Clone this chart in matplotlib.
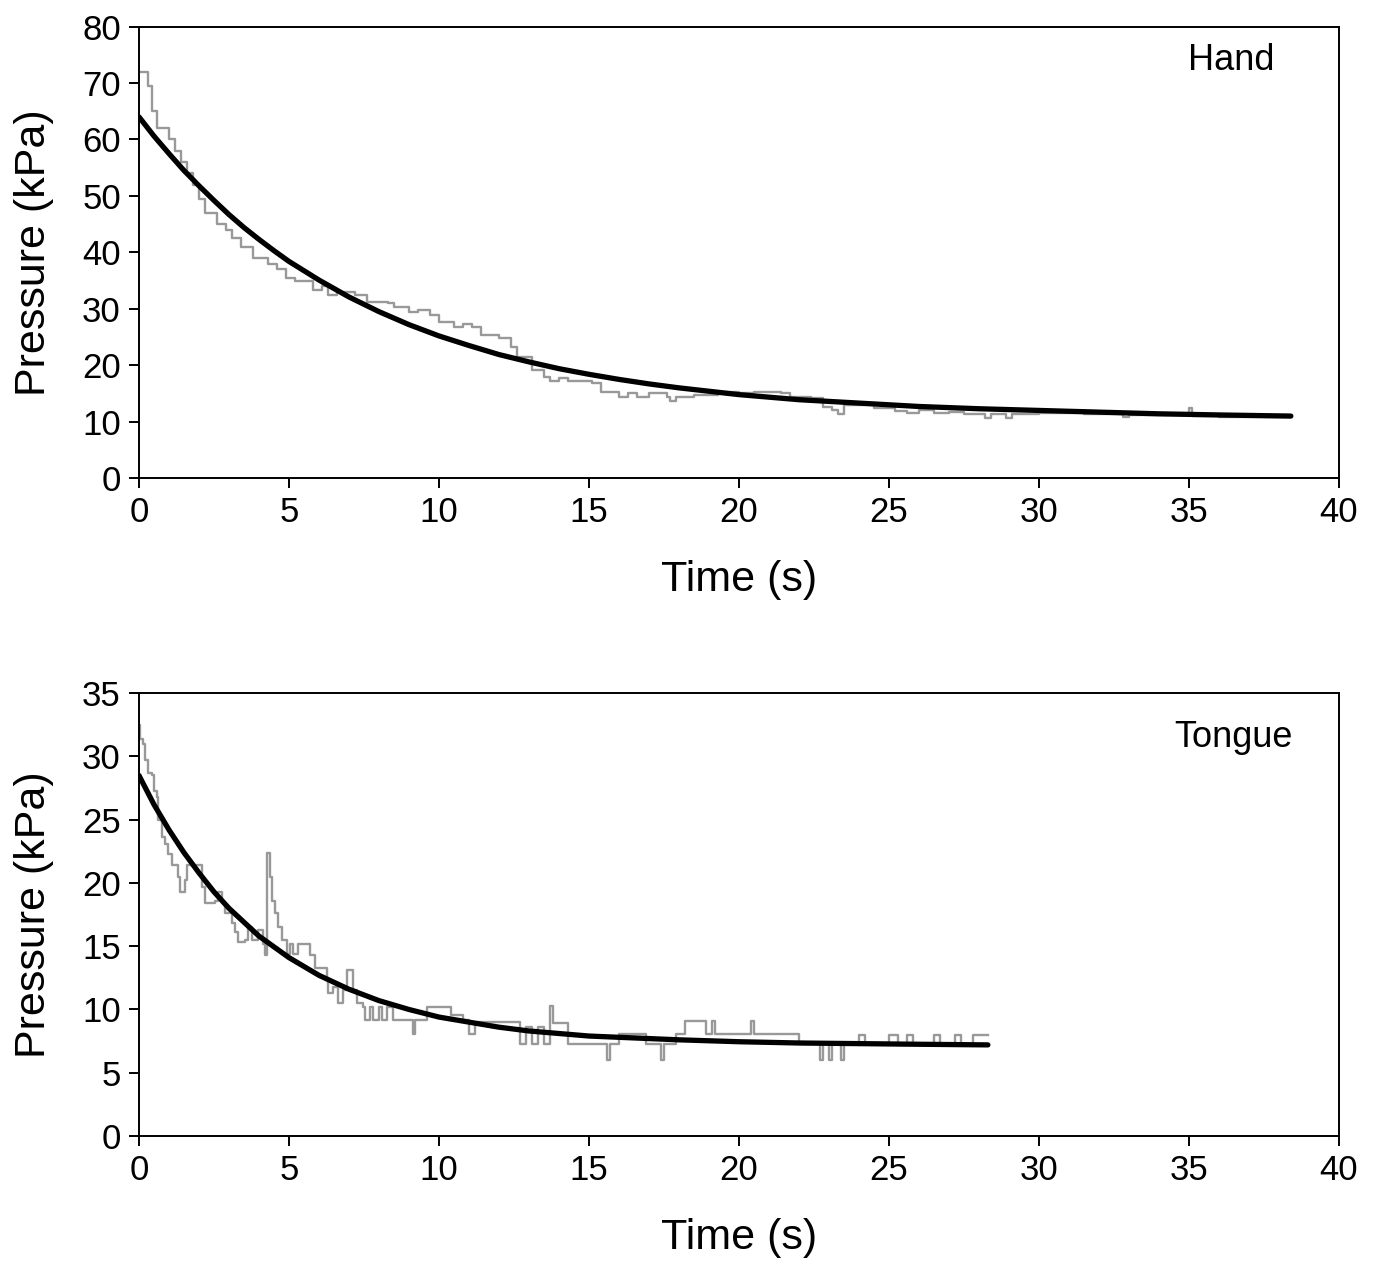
import matplotlib
matplotlib.use("Agg")
import matplotlib.pyplot as plt

plt.rcParams['font.family'] = ['Liberation Sans', 'DejaVu Sans']

# Hand: measured pressure (step trace) and fitted decay
hand_t = [0, 0.3, 0.45, 0.6, 1.0, 1.2, 1.4, 1.6, 1.8, 2.0, 2.2, 2.6, 2.9, 3.1, 3.4,
          3.8, 4.3, 4.6, 4.9, 5.2, 5.8, 6.1, 6.3, 6.6, 7.2, 7.6, 8.3, 8.5, 9.0, 9.3,
          9.7, 10.0, 10.5, 10.8, 11.1, 11.4, 12.0, 12.4, 12.6, 13.1, 13.5, 13.7, 14.0,
          14.3, 15.1, 15.4, 16.0, 16.3, 16.6, 17.0, 17.6, 17.7, 17.9, 18.5, 19.3, 20.0,
          20.5, 21.4, 21.7, 22.4, 22.8, 23.1, 23.3, 23.5, 24.5, 25.2, 25.6, 26.0, 26.5,
          27.0, 27.5, 28.2, 28.4, 28.9, 29.1, 30.0, 31.5, 32.8, 33.0, 35.0, 35.1, 36.0,
          38.4]
hand_p = [72, 69.5, 65, 62, 60, 58, 56, 54, 52, 49.5, 47, 45, 44, 42.5, 41,
          39, 38, 37, 35.5, 35, 33.3, 34, 32.5, 33, 32.5, 31.2, 31, 30.3, 29.4, 29.8,
          28.9, 27.7, 26.8, 27.3, 26.8, 25.4, 24.8, 23.2, 21.5, 19.1, 18, 17.2, 17.8,
          17.2, 16.8, 15.3, 14.4, 15.1, 14.4, 15.0, 14.4, 13.7, 14.4, 14.7, 15.3, 15.0,
          15.3, 15.1, 14.4, 14.2, 12.6, 12.0, 11.3, 12.9, 12.4, 11.9, 11.5, 12.0, 11.6,
          11.8, 11.4, 10.6, 11.4, 10.6, 11.4, 11.6, 11.3, 10.8, 11.2, 12.5, 11.0, 10.8,
          10.8]
hand_fit_t = [0, 0.5, 1, 1.5, 2, 2.5, 3, 3.5, 4, 4.5, 5, 6, 7, 8, 9, 10, 11, 12, 13,
              14, 15, 16, 17, 18, 19, 20, 22, 24, 26, 28, 30, 32, 34, 36, 38.4]
hand_fit_p = [64.0, 60.6, 57.5, 54.5, 51.8, 49.2, 46.7, 44.4, 42.3, 40.3, 38.4, 35.1,
              32.1, 29.5, 27.2, 25.2, 23.5, 21.9, 20.6, 19.4, 18.4, 17.5, 16.7, 16.0,
              15.4, 14.8, 13.9, 13.3, 12.7, 12.3, 12.0, 11.7, 11.4, 11.2, 11.0]

# Tongue: measured pressure (step trace) and fitted decay
tongue_t = [0, 0.05, 0.13, 0.2, 0.3, 0.43, 0.5, 0.6, 0.63, 0.77, 0.87, 0.97, 1.1, 1.3,
            1.37, 1.53, 1.6, 2.1, 2.2, 2.53, 2.63, 2.77, 2.87, 3.1, 3.2, 3.3, 3.53, 3.63,
            3.77, 3.97, 4.13, 4.2, 4.27, 4.37, 4.43, 4.53, 4.63, 4.77, 4.93, 5.03, 5.13,
            5.3, 5.7, 5.87, 6.27, 6.3, 6.47, 6.63, 6.8, 6.93, 7.13, 7.27, 7.47, 7.53,
            7.7, 7.8, 8.0, 8.1, 8.27, 8.47, 9.13, 9.2, 9.6, 10.4, 10.8, 11.0, 11.2,
            12.7, 12.9, 13.1, 13.3, 13.5, 13.7, 13.8, 14.3, 15.6, 15.7, 16.0, 16.9,
            17.4, 17.5, 17.9, 18.2, 18.9, 19.1, 19.2, 20.4, 20.5, 22.0, 22.7, 22.8,
            23.0, 23.1, 23.4, 23.5, 24.0, 24.2, 25.0, 25.3, 25.6, 25.8, 26.5, 26.7,
            27.2, 27.4, 27.8, 28.0, 28.3]
tongue_p = [32.5, 31.4, 31.0, 29.7, 28.7, 28.5, 27.3, 26.8, 25.0, 23.6, 23.1, 22.3, 21.4,
            20.5, 19.3, 20.2, 21.4, 19.7, 18.4, 18.6, 19.3, 18.4, 17.6, 16.8, 16.1, 15.3,
            15.5, 16.5, 15.5, 16.3, 15.2, 14.3, 22.4, 20.5, 18.6, 17.6, 16.5, 15.5, 14.4,
            15.2, 14.4, 15.2, 14.3, 13.3, 12.3, 11.3, 11.8, 10.5, 11.5, 13.1, 11.5, 10.5,
            10.2, 9.2, 10.2, 9.2, 10.2, 9.2, 10.2, 9.2, 8.1, 9.2, 10.2, 9.6, 9.2, 8.1,
            9.0, 7.3, 8.6, 7.3, 8.6, 7.3, 10.3, 8.9, 7.3, 6.0, 7.3, 8.1, 7.3, 6.0, 7.3,
            8.1, 9.1, 8.1, 9.1, 8.1, 9.1, 8.1, 7.3, 6.0, 7.3, 6.0, 7.3, 6.0, 7.3, 8.0,
            7.3, 8.0, 7.2, 8.0, 7.2, 8.0, 7.2, 8.0, 7.2, 8.0, 8.0, 8.0]
tongue_fit_t = [0, 0.5, 1, 1.5, 2, 2.5, 3, 3.5, 4, 5, 6, 7, 8, 9, 10, 11, 12, 13, 14,
                15, 16, 17, 18, 20, 22, 24, 26, 28.3]
tongue_fit_p = [28.5, 26.2, 24.2, 22.4, 20.8, 19.3, 18.0, 16.9, 15.8, 14.1, 12.7, 11.6,
                10.7, 10.0, 9.4, 9.0, 8.6, 8.3, 8.1, 7.9, 7.8, 7.7, 7.6, 7.45, 7.35,
                7.3, 7.25, 7.2]

fig = plt.figure(figsize=(13.76, 12.65), dpi=100)
ax1 = fig.add_axes([0.101, 0.622, 0.872, 0.357])
ax2 = fig.add_axes([0.101, 0.102, 0.872, 0.350])

panels = [
    (ax1, hand_t, hand_p, hand_fit_t, hand_fit_p, 80, 10, 'Hand', 0.910, 0.925),
    (ax2, tongue_t, tongue_p, tongue_fit_t, tongue_fit_p, 35, 5, 'Tongue', 0.912, 0.90),
]

for ax, t, p, ft, fp, ymax, ystep, name, tx, ty in panels:
    ax.plot(t, p, drawstyle='steps-post', color='#999999', lw=1.7)
    ax.plot(ft, fp, color='black', lw=3.8, solid_capstyle='round')
    ax.set_xlim(0, 40)
    ax.set_ylim(0, ymax)
    ax.set_xticks(range(0, 41, 5))
    ax.set_yticks(range(0, ymax + 1, ystep))
    ax.tick_params(labelsize=25, length=7, width=1.4, direction='out', pad=6)
    for s in ax.spines.values():
        s.set_linewidth(1.4)
    ax.set_xlabel('Time (s)', fontsize=31, labelpad=22)
    ax.set_ylabel('Pressure (kPa)', fontsize=31, labelpad=20)
    ax.text(tx, ty, name, transform=ax.transAxes, fontsize=26,
            ha='center', va='center')

fig.savefig('out.png', dpi=100)
